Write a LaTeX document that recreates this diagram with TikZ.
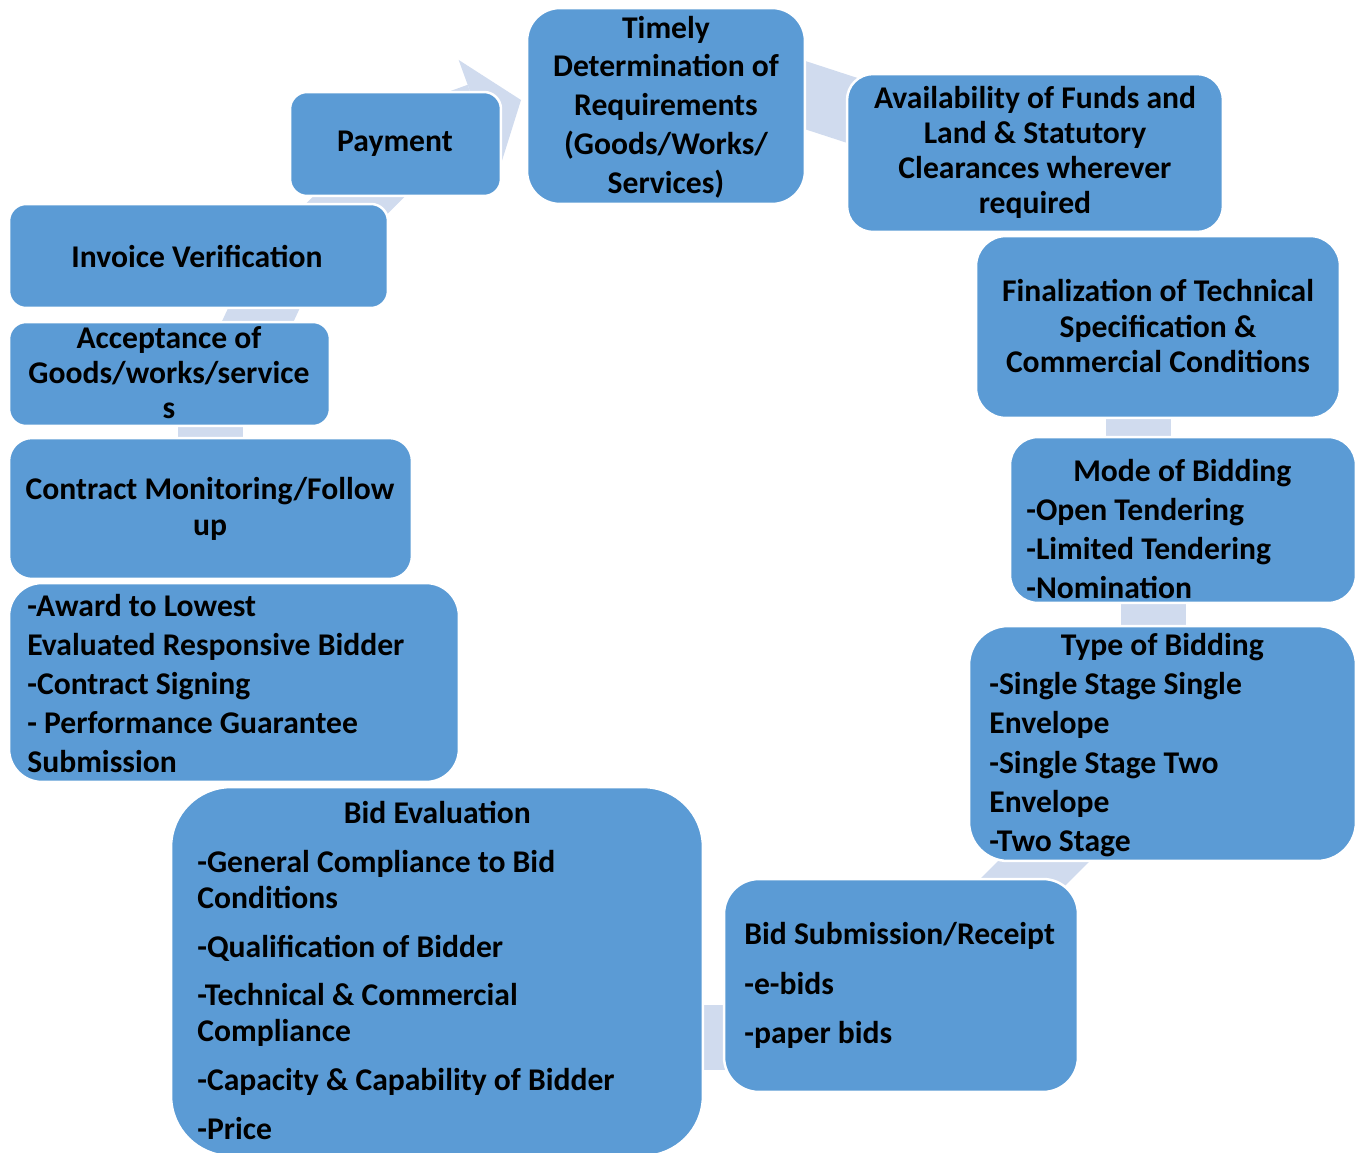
\documentclass[tikz,border=0pt]{standalone}
\usepackage{fontspec}
\setmainfont{Carlito}
\usepackage{xcolor}
\usetikzlibrary{arrows.meta, backgrounds}

\definecolor{boxblue}{HTML}{5B9BD5}
\definecolor{linkblue}{HTML}{D0DBEE}

\newcommand{\stagefont}[1]{\fontsize{18}{#1}\selectfont\bfseries}
\newcommand{\ctrline}[1]{\hfill#1\hfill\null}

\tikzset{
  stage/.style={fill=boxblue, draw=white, line width=0.05cm, inner sep=0pt, outer sep=0pt},
  stagetext/.style={inner sep=0pt, text=black},
  link/.style={draw=linkblue, line width=1.3cm},
}

\begin{document}
\begin{tikzpicture}[x=0.02cm, y=-0.02cm]
  \useasboundingbox (0,0) rectangle (1357,1153);
  % stages of the cycle
  \node[stage, minimum width=5.56cm, minimum height=3.92cm, rounded corners=0.66cm] (tim) at (666,106) {};
  \node[stage, minimum width=7.52cm, minimum height=3.16cm, rounded corners=0.52cm] (avail) at (1035,153) {};
  \node[stage, minimum width=7.28cm, minimum height=3.64cm, rounded corners=0.6cm] (fin) at (1158,327) {};
  \node[stage, minimum width=6.92cm, minimum height=3.32cm, rounded corners=0.56cm] (mode) at (1183,520) {};
  \node[stage, minimum width=7.74cm, minimum height=4.7cm, rounded corners=0.78cm] (type) at (1162.5,743.5) {};
  \node[stage, minimum width=7.08cm, minimum height=4.26cm, rounded corners=0.7cm] (sub) at (901,985.5) {};
  \node[stage, minimum width=10.64cm, minimum height=7.38cm, rounded corners=1.2cm] (eval) at (437,971.5) {};
  \node[stage, minimum width=9cm, minimum height=3.98cm, rounded corners=0.66cm] (award) at (234,682.5) {};
  \node[stage, minimum width=8.06cm, minimum height=2.82cm, rounded corners=0.46cm] (mon) at (210.5,508.5) {};
  \node[stage, minimum width=6.42cm, minimum height=2.08cm, rounded corners=0.34cm] (acc) at (169.5,374) {};
  \node[stage, minimum width=7.58cm, minimum height=2.08cm, rounded corners=0.34cm] (inv) at (198.5,256) {};
  \node[stage, minimum width=4.22cm, minimum height=2.08cm, rounded corners=0.34cm] (pay) at (395.5,144) {};

  % texts
  \node[stagetext, align=center, font=\stagefont{22.1}] (timtext) at (666,107)
    {Timely\\Determination of\\Requirements\\(Goods/Works/\\Services)};
  \node[stagetext, align=center, font=\stagefont{19.9}] (availtext) at (1035,152)
    {Availability of Funds and\\Land \& Statutory\\Clearances wherever\\required};
  \node[stagetext, align=center, font=\stagefont{20.2}] (fintext) at (1158,326)
    {Finalization of Technical\\Specification \&\\Commercial Conditions};
  \node[stagetext, anchor=west, text width=6.24cm, align=flush left, font=\stagefont{22.3}] (modetext) at (1026,529)
    {\ctrline{Mode of Bidding}\\-Open Tendering\\-Limited Tendering\\-Nomination};
  \node[stagetext, anchor=west, text width=6.92cm, align=flush left, font=\stagefont{22.3}] (typetext) at (989,745)
    {\ctrline{Type of Bidding}\\-Single Stage Single\\Envelope\\-Single Stage Two\\Envelope\\-Two Stage};
  \node[stagetext, anchor=west, text width=6.8cm, align=flush left, font=\stagefont{28.2}] (subtext) at (744,985.5)
    {Bid Submission/Receipt\\-e-bids\\-paper bids};
  \node[stagetext, anchor=west, text width=9.6cm, align=flush left, font=\stagefont{20.5}] (evaltext) at (197,970.5)
    {\ctrline{Bid Evaluation}\\[7.3pt]-General Compliance to Bid\\Conditions\\[7.3pt]-Qualification of Bidder\\[7.3pt]-Technical \& Commercial\\Compliance\\[7.3pt]-Capacity \& Capability of Bidder\\[7.3pt]-Price};
  \node[stagetext, anchor=west, text width=8.6cm, align=flush left, font=\stagefont{22.2}] (awardtext) at (27,683.5)
    {-Award to Lowest\\Evaluated Responsive Bidder\\-Contract Signing\\- Performance Guarantee\\Submission};
  \node[stagetext, align=center, font=\stagefont{20.5}] (montext) at (210,509)
    {Contract Monitoring/Follow\\up};
  \node[stagetext, align=center, font=\stagefont{19.9}] (acctext) at (169,373)
    {Acceptance of\\Goods/works/service\\s};
  \node[stagetext, font=\stagefont{20}] (invtext) at (197,256) {Invoice Verification};
  \node[stagetext, font=\stagefont{20}] (paytext) at (395,144) {Payment};

  % links behind the stages
  \begin{scope}[on background layer]
    \draw[link, -{Triangle[length=0.9cm, width=2.36cm, line width=0pt]}] ([shift={(-93,-3)}]pay.east) -- ([shift={(-6,-6)}]tim.west);
    \draw[link] ([shift={(-40,-24)}]tim.east) -- ([shift={(53,-27)}]avail.west);
    \draw[link] ([shift={(-20,-20)}]fin.south) -- ([shift={(-45,20)}]mode.north);
    \draw[link] ([shift={(-30,-20)}]mode.south) -- ([shift={(-9.5,20)}]type.north);
    \draw[link] ([shift={(-87.5,-31)}]type.south) -- ([shift={(94,31)}]sub.north);
    \draw[link] ([shift={(40,51.5)}]sub.west) -- ([shift={(-40,65.5)}]eval.east);
    \draw[link] ([shift={(0,30)}]mon.north) -- ([shift={(41,-30)}]acc.south);
    \draw[link] ([shift={(74,30)}]acc.north) -- ([shift={(80,-31)}]inv.south);
    \draw[link] ([shift={(122,31)}]inv.north) -- ([shift={(-5,-31)}]pay.south);
  \end{scope}
\end{tikzpicture}
\end{document}
